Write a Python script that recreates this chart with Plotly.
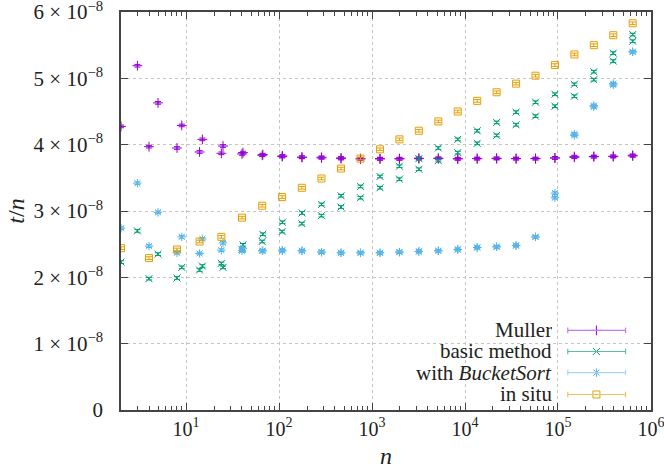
import plotly.graph_objects as go

# problem sizes (runs come in pairs of consecutive sizes)
n_all = [2, 3, 4, 5, 8, 9, 14, 15, 24, 25, 40, 41, 66, 67, 108, 109,
         176, 177, 286, 287, 464, 465, 752, 753, 1218, 1219, 1972, 1973,
         3192, 3193, 5166, 5167, 8360, 8361, 13528, 13529, 21890, 21891,
         35420, 35421, 57312, 57313, 92734, 92735, 150048, 150049,
         242784, 242785, 392834, 392835, 635620, 635621]
n_even = [2, 4, 8, 14, 24, 40, 66, 108, 176, 286, 464, 752, 1218, 1972,
          3192, 5166, 8360, 13528, 21890, 35420, 57312, 92734, 150048,
          242784, 392834, 635620]

# t/n in units of 1e-8
muller = [4.275, 5.19, 3.97, 4.63, 3.95, 4.29, 3.89, 4.08, 3.87, 3.98,
          3.86, 3.88, 3.84, 3.85, 3.82, 3.83, 3.81, 3.81, 3.81, 3.80,
          3.79, 3.80, 3.785, 3.79, 3.785, 3.79, 3.785, 3.79, 3.795, 3.79,
          3.795, 3.79, 3.785, 3.79, 3.79, 3.79, 3.795, 3.79, 3.79, 3.79,
          3.79, 3.79, 3.80, 3.80, 3.82, 3.81, 3.82, 3.82, 3.825, 3.82,
          3.84, 3.83]
basic = [2.23, 2.70, 1.98, 2.35, 1.99, 2.15, 2.11, 2.17, 2.21, 2.15,
         2.42, 2.49, 2.54, 2.65, 2.69, 2.83, 2.81, 2.97, 2.93, 3.10,
         3.06, 3.23, 3.20, 3.37, 3.35, 3.52, 3.48, 3.675, 3.63, 3.79,
         3.76, 3.95, 3.88, 4.08, 4.02, 4.21, 4.14, 4.335, 4.30, 4.49,
         4.43, 4.64, 4.58, 4.76, 4.73, 4.91, 4.98, 5.10, 5.26, 5.38,
         5.56, 5.66]
bucket = [2.74, 3.42, 2.47, 2.98, 2.37, 2.61, 2.36, 2.58, 2.41, 2.52,
          2.40, 2.43, 2.40, 2.40, 2.41, 2.40, 2.40, 2.40, 2.38, 2.38,
          2.37, 2.37, 2.37, 2.37, 2.37, 2.37, 2.38, 2.38, 2.39, 2.39,
          2.40, 2.40, 2.42, 2.42, 2.45, 2.45, 2.46, 2.46, 2.48, 2.48,
          2.61, 2.61, 3.20, 3.27, 4.14, 4.16, 4.57, 4.59, 4.90, 4.92,
          5.40, 5.40]
in_situ = [2.44, 2.29, 2.42, 2.54, 2.61, 2.90, 3.08, 3.21, 3.35, 3.49,
           3.64, 3.79, 3.93, 4.08, 4.21, 4.35, 4.50, 4.66, 4.79, 4.92,
           5.04, 5.20, 5.36, 5.50, 5.65, 5.83]

# name, x, y, point colour, key line colour, symbol
series = [
    ("Muller", n_all, muller, "#9400d3", "#c47ae8", "cross-thin-open"),
    ("basic method", n_all, basic, "#009e73", "#5cbf9e", "x-thin-open"),
    ("with <i>BucketSort</i>", n_all, bucket, "#56b4e9", "#a6d6f3", "asterisk-open"),
    ("in situ", n_even, in_situ, "#e69f00", "#f0c15a", "square-open"),
]

FONT = "Liberation Serif, DejaVu Serif, serif"

fig = go.Figure()
for name, xs, ys, col, kcol, sym in series:
    fig.add_trace(go.Scatter(
        x=xs, y=[v * 1e-8 for v in ys], mode="markers", name=name,
        marker=dict(symbol=sym, size=7, color=col, line=dict(color=col, width=1)),
        error_y=dict(type="constant", value=0.02e-8, color=col, thickness=1, width=3),
        showlegend=False,
    ))

# hand-made gnuplot style key (bottom right, opaque box)
key_y = [0.200, 0.147, 0.094, 0.039]
x0, xm, x1, xt = 0.843, 0.897, 0.952, 0.8175
for (name, xs, ys, col, kcol, sym), ky in zip(series, key_y):
    fig.add_shape(type="line", xref="paper", yref="paper", x0=x0, x1=x1, y0=ky, y1=ky,
                  line=dict(color=kcol, width=1.2))
    for xc in (x0, x1):
        fig.add_shape(type="line", xref="paper", yref="paper", x0=xc, x1=xc,
                      y0=ky - 0.007, y1=ky + 0.007, line=dict(color=kcol, width=1.2))
    fig.add_annotation(xref="paper", yref="paper", x=xt, y=ky, text=name, showarrow=False,
                       xanchor="right", yanchor="middle", height=20,
                       font=dict(family=FONT, size=21, color="#222"))
    fig.add_trace(go.Scatter(x=[xm], y=[ky], xaxis="x2", yaxis="y2", mode="markers",
                             marker=dict(symbol=sym, size=7, color=col, line=dict(color=col, width=1)),
                             showlegend=False, hoverinfo="skip"))

fig.add_shape(type="rect", xref="paper", yref="paper", x0=0.432, x1=0.979, y0=0.012, y1=0.230,
              fillcolor="white", line=dict(width=0), layer="between")

yt = [0, 1e-8, 2e-8, 3e-8, 4e-8, 5e-8, 6e-8]
ytext = ["0"] + [f"{k} × 10<sup>−8</sup>" for k in range(1, 7)]
xt_vals = [10, 100, 1000, 10000, 100000, 1000000]
xt_text = [f"10<sup>{k}</sup>" for k in range(1, 7)]

fig.update_layout(
    width=664, height=469,
    margin=dict(l=121, r=13, t=12, b=59),
    paper_bgcolor="white", plot_bgcolor="white",
    font=dict(family=FONT, size=20, color="#222"),
    xaxis=dict(
        type="log", range=[0.30103, 6.0001], tickvals=xt_vals, ticktext=xt_text,
        ticks="inside", ticklen=7, tickcolor="#444", mirror="allticks",
        showline=True, linecolor="#444", linewidth=1.5, automargin=False,
        ticklabeloverflow="allow",
        showgrid=True, gridcolor="#c4c4c4", griddash="dot", gridwidth=1,
        minor=dict(ticks="inside", ticklen=4, tickcolor="#444", dtick="D1", showgrid=False),
        title=dict(text="<i>n</i>", standoff=12), zeroline=False,
    ),
    yaxis=dict(
        range=[0, 6.0001e-8], tickvals=yt, ticktext=ytext,
        ticks="inside", ticklen=7, tickcolor="#444", mirror="allticks",
        showline=True, linecolor="#444", linewidth=1.5, automargin=False,
        ticklabeloverflow="allow", ticklabelstandoff=12, tickfont=dict(size=21),
        showgrid=True, gridcolor="#c4c4c4", griddash="dot", gridwidth=1,
        title=dict(text="<i>t</i>/<i>n</i>", standoff=2), zeroline=False,
    ),
    xaxis2=dict(range=[0, 1], overlaying="x", visible=False, fixedrange=True),
    yaxis2=dict(range=[0, 1], overlaying="y", visible=False, fixedrange=True),
)

fig.write_html("out.html", config={"displayModeBar": False},
               post_script="document.body.style.margin='0';")
